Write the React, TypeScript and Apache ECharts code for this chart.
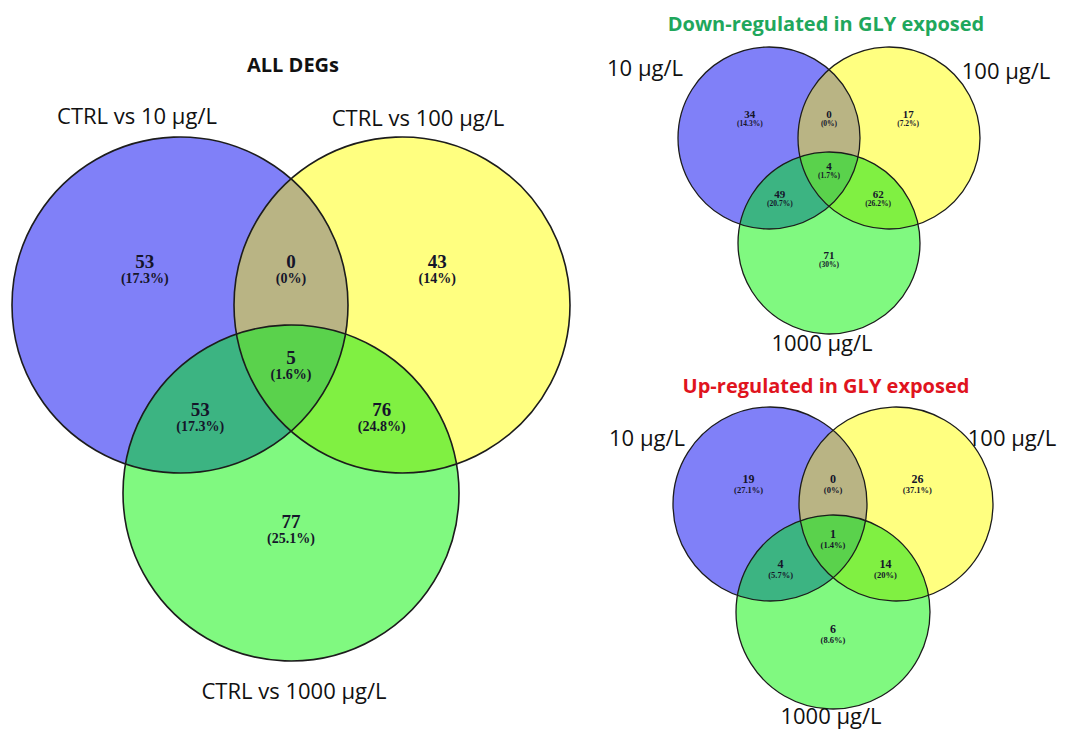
import React, { useEffect, useRef } from "react";
import * as echarts from "echarts";

// ---- Data ----
// region order: A only, B only, C only, A∩B, A∩C, B∩C, A∩B∩C
const allSets = ["CTRL vs 10 µg/L", "CTRL vs 100 µg/L", "CTRL vs 1000 µg/L"];
const allCounts = [53, 43, 77, 0, 53, 76, 5];
const allPct = ["17.3%", "14%", "25.1%", "0%", "17.3%", "24.8%", "1.6%"];

const downSets = ["10 µg/L", "100 µg/L", "1000 µg/L"];
const downCounts = [34, 17, 71, 0, 49, 62, 4];
const downPct = ["14.3%", "7.2%", "30%", "0%", "20.7%", "26.2%", "1.7%"];

const upSets = ["10 µg/L", "100 µg/L", "1000 µg/L"];
const upCounts = [19, 26, 6, 0, 4, 14, 1];
const upPct = ["27.1%", "37.1%", "8.6%", "0%", "5.7%", "20%", "1.4%"];

const titles = ["ALL DEGs", "Down-regulated in GLY exposed", "Up-regulated in GLY exposed"];

// ---- Layout / style ----
const COLORS = {
  A: "#8080f8",
  B: "#ffff80",
  C: "#80f980",
  AB: "#b9b484",
  AC: "#3cb482",
  BC: "#80f042",
  ABC: "#5ad24c",
};
// relative label positions (units of r, from midpoint of A/B centres)
const REL = [
  [-0.87, -0.26],
  [0.87, -0.26],
  [0, 1.29],
  [0, -0.26],
  [-0.54, 0.62],
  [0.54, 0.62],
  [0, 0.31],
];

type Circle = [number, number, number];

function inside(p: number[], c: Circle) {
  const dx = p[0] - c[0];
  const dy = p[1] - c[1];
  return dx * dx + dy * dy <= c[2] * c[2] + 0.5;
}

function intersectionPoly(circles: Circle[]): number[][] {
  const pts: number[][] = [];
  const N = 720;
  circles.forEach((c, i) => {
    for (let k = 0; k < N; k++) {
      const a = (2 * Math.PI * k) / N;
      const p = [c[0] + c[2] * Math.cos(a), c[1] + c[2] * Math.sin(a)];
      if (circles.every((o, j) => j === i || inside(p, o))) pts.push(p);
    }
  });
  for (let i = 0; i < circles.length; i++) {
    for (let j = i + 1; j < circles.length; j++) {
      const [x1, y1, r1] = circles[i];
      const [x2, y2, r2] = circles[j];
      const d = Math.hypot(x2 - x1, y2 - y1);
      const a = (r1 * r1 - r2 * r2 + d * d) / (2 * d);
      const h = Math.sqrt(Math.max(0, r1 * r1 - a * a));
      const mx = x1 + (a * (x2 - x1)) / d;
      const my = y1 + (a * (y2 - y1)) / d;
      const cand = [
        [mx + (h * (y2 - y1)) / d, my - (h * (x2 - x1)) / d],
        [mx - (h * (y2 - y1)) / d, my + (h * (x2 - x1)) / d],
      ];
      cand.forEach((p) => {
        if (circles.every((o) => inside(p, o))) pts.push(p);
      });
    }
  }
  const cx = pts.reduce((s, p) => s + p[0], 0) / pts.length;
  const cy = pts.reduce((s, p) => s + p[1], 0) / pts.length;
  pts.sort((p, q) => Math.atan2(p[1] - cy, p[0] - cx) - Math.atan2(q[1] - cy, q[0] - cx));
  return pts;
}

type VennSpec = {
  cx: number;
  cy: number;
  dx: number;
  dy: number;
  r: number;
  counts: number[];
  pct: string[];
  sets: string[];
  setPos: number[][];
  setFont: number;
  numFont: number;
  pctFont: number;
  pctGap: number;
  stroke: number;
  title: string;
  titlePos: number[];
  titleColor: string;
  titleFont: number;
};

function buildVenn(v: VennSpec): any[] {
  const A: Circle = [v.cx - v.dx, v.cy, v.r];
  const B: Circle = [v.cx + v.dx, v.cy, v.r];
  const C: Circle = [v.cx, v.cy + v.dy, v.r];
  const els: any[] = [];
  const circ = (c: Circle, fill: string) => ({
    type: "circle",
    z: 1,
    shape: { cx: c[0], cy: c[1], r: c[2] },
    style: { fill },
  });
  els.push(circ(A, COLORS.A), circ(B, COLORS.B), circ(C, COLORS.C));
  const poly = (cs: Circle[], fill: string, z: number) => ({
    type: "polygon",
    z,
    shape: { points: intersectionPoly(cs) },
    style: { fill },
  });
  els.push(poly([A, B], COLORS.AB, 2), poly([A, C], COLORS.AC, 2), poly([B, C], COLORS.BC, 2));
  els.push(poly([A, B, C], COLORS.ABC, 3));
  [A, B, C].forEach((c) =>
    els.push({
      type: "circle",
      z: 4,
      shape: { cx: c[0], cy: c[1], r: c[2] },
      style: { fill: "none", stroke: "#1c1c1c", lineWidth: v.stroke },
    })
  );
  v.counts.forEach((n, i) => {
    const x = v.cx + REL[i][0] * v.r;
    const y = v.cy + REL[i][1] * v.r;
    els.push({
      type: "text",
      z: 5,
      x,
      y,
      style: {
        text: String(n),
        font: `bold ${v.numFont}px "Liberation Serif", serif`,
        fill: "#15152a",
        align: "center",
        verticalAlign: "middle",
      },
    });
    els.push({
      type: "text",
      z: 5,
      x,
      y: y + v.pctGap,
      style: {
        text: `(${v.pct[i]})`,
        font: `bold ${v.pctFont}px "Liberation Serif", serif`,
        fill: "#15152a",
        align: "center",
        verticalAlign: "middle",
      },
    });
  });
  v.sets.forEach((s, i) => {
    els.push({
      type: "text",
      z: 5,
      x: v.setPos[i][0],
      y: v.setPos[i][1],
      style: {
        text: s,
        font: `${v.setFont}px "Open Sans", sans-serif`,
        fill: "#111",
        align: "center",
        verticalAlign: "middle",
      },
    });
  });
  els.push({
    type: "text",
    z: 5,
    x: v.titlePos[0],
    y: v.titlePos[1],
    style: {
      text: v.title,
      font: `bold ${v.titleFont}px "Open Sans", sans-serif`,
      fill: v.titleColor,
      align: "center",
      verticalAlign: "middle",
    },
  });
  return els;
}

export default function App() {
  const ref = useRef<HTMLDivElement>(null);
  useEffect(() => {
    if (!ref.current) return;
    const chart = echarts.init(ref.current, undefined, { renderer: "svg" });
    const venns: VennSpec[] = [
      {
        cx: 291, cy: 305, dx: 111, dy: 188, r: 168,
        counts: allCounts, pct: allPct, sets: allSets,
        setPos: [[137, 115], [418, 117], [294, 690]],
        setFont: 22, numFont: 19, pctFont: 14, pctGap: 17, stroke: 1.6,
        title: titles[0], titlePos: [293, 64], titleColor: "#111", titleFont: 20,
      },
      {
        cx: 829, cy: 138, dx: 60, dy: 105, r: 91,
        counts: downCounts, pct: downPct, sets: downSets,
        setPos: [[645, 67], [1006, 70], [822, 342]],
        setFont: 22, numFont: 11, pctFont: 7.5, pctGap: 9, stroke: 1.3,
        title: titles[1], titlePos: [826, 23], titleColor: "#1fa75c", titleFont: 20,
      },
      {
        cx: 833, cy: 504, dx: 63, dy: 108, r: 97,
        counts: upCounts, pct: upPct, sets: upSets,
        setPos: [[647, 437], [1012, 437], [831, 715]],
        setFont: 22, numFont: 12, pctFont: 8.5, pctGap: 11, stroke: 1.3,
        title: titles[2], titlePos: [826, 385], titleColor: "#e0141e", titleFont: 20,
      },
    ];
    const elements = venns.flatMap(buildVenn);
    chart.setOption({
      animation: false,
      backgroundColor: "#ffffff",
      graphic: { elements },
    });
    return () => chart.dispose();
  }, []);
  return (
    <div
      ref={ref}
      style={{ position: "fixed", left: 0, top: 0, width: 1067, height: 731 }}
    />
  );
}
